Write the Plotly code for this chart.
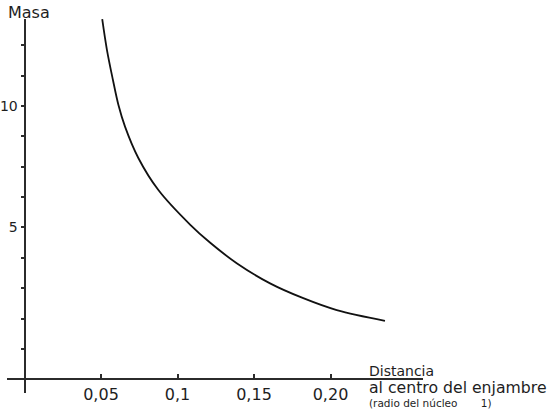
import plotly.graph_objects as go

# Data
distancia = [0.0508, 0.0539, 0.0578, 0.0614, 0.0657, 0.0744, 0.0875,
             0.1082, 0.1212, 0.1387, 0.1605, 0.1822, 0.2041, 0.2356]
masa = [13.57, 12.30, 11.07, 10.04, 9.15, 7.86, 6.54,
        5.12, 4.38, 3.53, 2.70, 2.09, 1.60, 1.16]

x_tickvals = [0.05, 0.10, 0.15, 0.20]
x_ticktext = ["0,05", "0,1", "0,15", "0,20"]
y_tickvals = [0, 1.25, 2.5, 3.75, 5, 6.25, 7.5, 8.75, 10, 11.25, 12.5]
y_ticktext = ["", "", "", "", "5", "", "", "", "10", "", ""]

FONT = "DejaVu Sans"
INK = "#1e1e1e"
AXIS = "#2b2b2b"

x_range = [-0.01144, 0.26046]
y_range = [-1.811, 13.58]
x_axis_y = -1.25  # height at which the horizontal axis sits


def px(v):
    return (v - x_range[0]) / (x_range[1] - x_range[0])


def py(v):
    return (v - y_range[0]) / (y_range[1] - y_range[0])


fig = go.Figure()
fig.add_trace(go.Scatter(
    x=distancia, y=masa, mode="lines",
    line=dict(color="#111111", width=1.8, shape="spline", smoothing=1.0),
    hoverinfo="skip", showlegend=False,
))

fig.update_layout(
    width=550, height=414,
    margin=dict(l=7, r=127, t=19, b=21),
    paper_bgcolor="white", plot_bgcolor="white",
    font=dict(family=FONT, color=INK, size=15),
    showlegend=False,
    xaxis=dict(
        range=x_range, domain=[0, 1],
        anchor="free", position=py(x_axis_y),
        showgrid=False, zeroline=False,
        showline=True, linecolor=AXIS, linewidth=2,
        tickmode="array", tickvals=x_tickvals, ticktext=x_ticktext,
        ticks="inside", ticklen=4, tickwidth=1.5, tickcolor=AXIS,
        tickfont=dict(family=FONT, size=16, color=INK),
        automargin=False,
    ),
    yaxis=dict(
        range=y_range, domain=[0, 1],
        anchor="free", position=px(0),
        showgrid=False, zeroline=False,
        showline=True, linecolor=AXIS, linewidth=2,
        tickmode="array", tickvals=y_tickvals, ticktext=y_ticktext,
        ticks="outside", ticklen=3, tickwidth=1.5, tickcolor=AXIS,
        tickfont=dict(family=FONT, size=14, color=INK),
        automargin=False,
    ),
    annotations=[
        dict(text="Masa", xref="paper", yref="paper", x=-0.0024, y=1.0187,
             xanchor="left", yanchor="middle", showarrow=False,
             font=dict(family=FONT, size=16, color=INK)),
        dict(text="Distancia", xref="paper", yref="paper", x=0.865, y=0.0575,
             xanchor="left", yanchor="middle", showarrow=False,
             font=dict(family=FONT, size=14, color=INK)),
        dict(text="al centro del enjambre", xref="paper", yref="paper", x=0.866, y=0.0150,
             xanchor="left", yanchor="middle", showarrow=False,
             font=dict(family=FONT, size=15.7, color=INK)),
        dict(text="(radio del núcleo&nbsp;&nbsp;&nbsp;&nbsp;&nbsp;&nbsp;&nbsp;1)", xref="paper", yref="paper",
             x=0.865, y=-0.0265,
             xanchor="left", yanchor="middle", showarrow=False,
             font=dict(family=FONT, size=10.5, color=INK)),
    ],
)

fig.write_html("out.html", config={"displayModeBar": False},
               post_script="document.body.style.margin='0';")
